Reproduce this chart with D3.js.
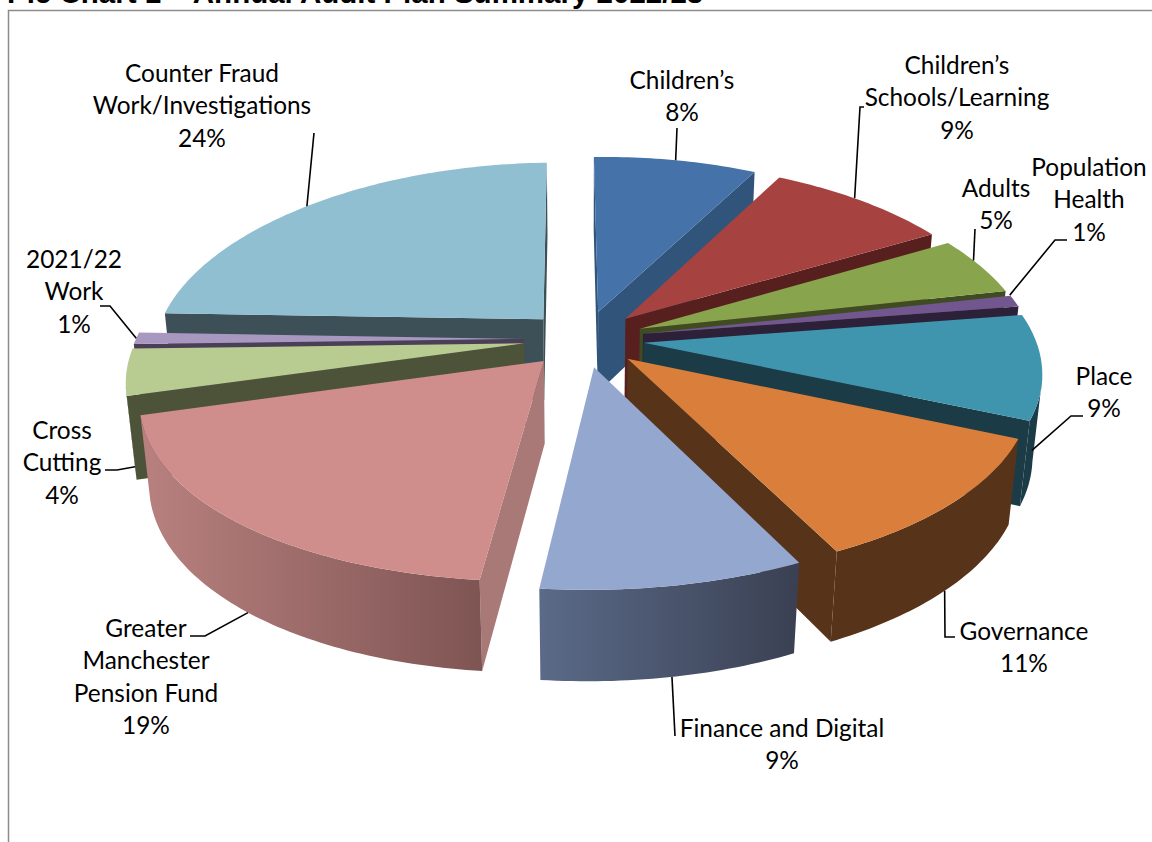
<!DOCTYPE html>
<html>
<head>
<meta charset="utf-8">
<script src="https://cdn.jsdelivr.net/npm/d3@7"></script>
<style>
  html, body { margin: 0; padding: 0; background: #fff; overflow: hidden; }
  svg { display: block; }
</style>
</head>
<body>
<svg id="chart" width="1152" height="842"></svg>
<script>
// Annual audit plan, share of days by area, clockwise from twelve o'clock
const categories = ["Children's", "Children's Schools/Learning", "Adults", "Population Health", "Place",
  "Governance", "Finance and Digital", "Greater Manchester Pension Fund", "Cross Cutting", "2021/22 Work",
  "Counter Fraud Work/Investigations"];
const shares = [8, 9, 5, 1, 9, 11, 9, 19, 4, 1, 24];

// Slice colours: top face, radial wall, outer wall at the clockwise start and end
const topColors = ["#4572a8", "#a64341", "#88a44c", "#71568f", "#3f95ae", "#d97f3b", "#93a7cf", "#cf8d8c", "#b8cb90", "#a897bf", "#90bfd2"];
const sideColors = ["#31547a", "#57201f", "#3f4c22", "#2d2039", "#1b3b47", "#57331a", "#47536e", "#a97978", "#4d5339", "#4a3f56", "#3d4f57"];
const rimStart = ["#31547a", "#57201f", "#3f4c22", "#2d2039", "#1b3b47", "#57331a", "#3a4052", "#7f5554", "#4d5339", "#4a3f56", "#3d4f57"];
const rimEnd = ["#31547a", "#57201f", "#3f4c22", "#2d2039", "#1b3b47", "#57331a", "#5a6a88", "#b8817f", "#4d5339", "#4a3f56", "#3d4f57"];

// Label text lines, anchor centre and line baselines
const labelLines = [
  ["Children’s", "8%"], ["Children’s", "Schools/Learning", "9%"], ["Adults", "5%"], ["Population", "Health", "1%"],
  ["Place", "9%"], ["Governance", "11%"], ["Finance and Digital", "9%"],
  ["Greater", "Manchester", "Pension Fund", "19%"], ["Cross", "Cutting", "4%"], ["2021/22", "Work", "1%"],
  ["Counter Fraud", "Work/Investigations", "24%"]
];
const labelCentreX = [682, 957, 996, 1089, 1104, 1024, 782, 146, 62, 74, 202];
const labelTopY = [89, 74, 197, 176, 385, 640, 737, 637, 439, 268, 82];
const labelStep = 32.4;

// Leader lines: rim angle nudge in degrees, drop down the wall (0 to 1), then the elbow points
const leaderNudge = [0, -1.5, -2, -2, 11, 0, 0, 0, -7, 0, -1];
const leaderDrop = [0, 0, 0, 0, 0.55, 1, 1, 1, 0.85, 0, 0];
const leaderBends = [
  [[677, 128]], [[860, 107], [864, 107]], [[975, 229]], [[1055, 240], [1067, 240]],
  [[1071, 416], [1083, 416]], [[945, 637], [955, 637]], [[675, 736]],
  [[205, 636], [190, 636]], [[117, 470], [105, 470]], [[110, 306], [100, 306]], [[314, 133]]
];

// Pie geometry and camera; widthBoost strengthens the horizontal perspective, lean tips the disc
const radius = 390, explode = 60, height = 94, firstAngle = -0.4;
const centreX = 584, centreY = 339, tilt = 0.47, cameraDist = 2500, widthBoost = 1.2, lean = 0.01;
const cosTilt = Math.sqrt(1 - tilt * tilt);

const svg = d3.select("#chart");
const defs = svg.append("defs");
const deg = Math.PI / 180;

function project(x, y, z) {
  const depth = cameraDist - y * cosTilt + z * tilt;
  const s = cameraDist / depth;
  const dx = x * Math.pow(s, widthBoost);
  return [centreX + dx, centreY + (y * tilt + z * cosTilt) * s - lean * dx];
}

const arcs = d3.pie().sort(null).value(d => d)
  .startAngle(firstAngle * deg).endAngle(firstAngle * deg + 2 * Math.PI)(shares).map((a, i) => {
    const mid = (a.startAngle + a.endAngle) / 2;
    return { i, start: a.startAngle, end: a.endAngle, mid, ox: explode * Math.sin(mid), oy: -explode * Math.cos(mid) };
  });

// Point on a slice: r along the radius at the given angle, z below the top face
function pt(s, angle, r, z) {
  return project(s.ox + r * Math.sin(angle), s.oy - r * Math.cos(angle), z);
}

// Whether a wall with outward normal (nx, ny) at ground point (x, y) faces the camera
function faces(nx, ny, x, y) {
  return nx * (0 - x) + ny * (cameraDist * cosTilt - y) > 0;
}

const poly = d3.line();
const g = svg.append("g");

// Farthest slices first, so nearer ones cover them
arcs.slice().sort((a, b) => a.oy - b.oy).forEach(s => {
  const slice = g.append("g").attr("class", "slice");
  const side = sideColors[s.i];

  [[s.start, -1], [s.end, 1]].forEach(([a, sign]) => {
    if (!faces(sign * Math.cos(a), sign * Math.sin(a), s.ox, s.oy)) return;
    slice.append("path")
      .attr("d", poly([pt(s, a, 0, 0), pt(s, a, radius, 0), pt(s, a, radius, height), pt(s, a, 0, height)]) + "Z")
      .attr("fill", side);
  });

  const steps = Math.max(2, Math.ceil((s.end - s.start) / deg));
  const angleAt = d3.scaleLinear().domain([0, steps]).range([s.start, s.end]);
  const angles = d3.range(steps + 1).map(angleAt);

  // Outer wall, only the part turned toward the camera, shaded across its width
  const front = angles.filter(a => faces(Math.sin(a), -Math.cos(a), s.ox + radius * Math.sin(a), s.oy - radius * Math.cos(a)));
  if (front.length > 1) {
    const gradId = "rim" + s.i;
    const grad = defs.append("linearGradient").attr("id", gradId).attr("gradientUnits", "userSpaceOnUse")
      .attr("x1", pt(s, s.start, radius, 0)[0]).attr("y1", 0)
      .attr("x2", pt(s, s.end, radius, 0)[0]).attr("y2", 0);
    grad.append("stop").attr("offset", 0).attr("stop-color", rimStart[s.i]);
    grad.append("stop").attr("offset", 1).attr("stop-color", rimEnd[s.i]);
    const outline = [...front.map(a => pt(s, a, radius, 0)), ...front.slice().reverse().map(a => pt(s, a, radius, height))];
    slice.append("path").attr("d", poly(outline) + "Z").attr("fill", `url(#${gradId})`);
  }

  const rim = angles.map(a => pt(s, a, radius, 0));
  slice.append("path")
    .attr("d", poly([pt(s, s.mid, 0, 0), ...rim]) + "Z")
    .attr("fill", topColors[s.i]);
});

// Leader lines from the rim out to each label
arcs.forEach(s => {
  const start = pt(s, s.mid + leaderNudge[s.i] * deg, radius, leaderDrop[s.i] * height);
  svg.append("path")
    .attr("d", poly([start, ...leaderBends[s.i]]))
    .attr("fill", "none").attr("stroke", "#000").attr("stroke-width", 1.6);
});

// Labels
const labels = svg.append("g").attr("font-family", "Lato, sans-serif").attr("font-size", 24.4).attr("fill", "#000").attr("text-anchor", "middle");
labelLines.forEach((lines, i) => {
  lines.forEach((t, j) => {
    labels.append("text").attr("x", labelCentreX[i]).attr("y", labelTopY[i] + j * labelStep).text(t);
  });
});

// Page frame and the section heading cut by the top edge
svg.append("path").attr("d", "M8.5,842V10.5H1152").attr("fill", "none").attr("stroke", "#8c8c8c").attr("stroke-width", 1.5);
svg.append("text").attr("x", 7).attr("y", 3)
  .attr("font-family", "Liberation Sans, Arial, sans-serif").attr("font-weight", "bold").attr("font-size", 29.5)
  .text("Pie Chart 1 – Annual Audit Plan Summary 2022/23");
</script>
</body>
</html>
